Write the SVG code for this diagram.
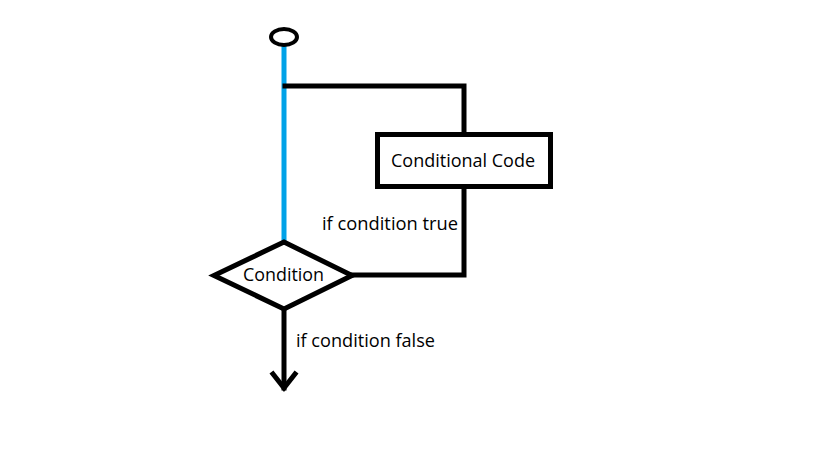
<svg xmlns="http://www.w3.org/2000/svg" width="819" height="460" viewBox="0 0 819 460">
<style>
.ln{fill:none;stroke:#000;stroke-width:5;stroke-linecap:square;stroke-linejoin:miter}
.t{font-family:"Open Sans","Noto Sans",sans-serif;fill:#000}
</style>
<rect width="819" height="460" fill="#fff"/>
<g id="connectors">
<line x1="284" y1="45" x2="284" y2="242" stroke="#00a2e8" stroke-width="5"/>
<polyline class="ln" points="285,86 464,86 464,133"/>
<polyline class="ln" points="464,187 464,275 353,275"/>
<line class="ln" x1="284" y1="309" x2="284" y2="388"/>
<polyline class="ln" points="273,374 284,388 295,374"/>
<text class="t" x="322" y="230" font-size="18.5" textLength="136" lengthAdjust="spacingAndGlyphs">if condition true</text>
<text class="t" x="296" y="347" font-size="18.5" textLength="139" lengthAdjust="spacingAndGlyphs">if condition false</text>
</g>
<g id="start">
<ellipse cx="284" cy="37" rx="13" ry="8" fill="#fff" stroke="#000" stroke-width="4"/>
</g>
<g id="code">
<rect x="377.5" y="134.5" width="173" height="52" fill="#fff" stroke="#000" stroke-width="5"/>
<text class="t" x="391" y="167" font-size="18.5" textLength="144" lengthAdjust="spacingAndGlyphs">Conditional Code</text>
</g>
<g id="condition">
<polygon points="284,242 214,275.5 284,309 352,275.5" fill="#fff" stroke="#000" stroke-width="5"/>
<text class="t" x="243" y="281" font-size="17.5" textLength="81" lengthAdjust="spacingAndGlyphs">Condition</text>
</g>
</svg>
